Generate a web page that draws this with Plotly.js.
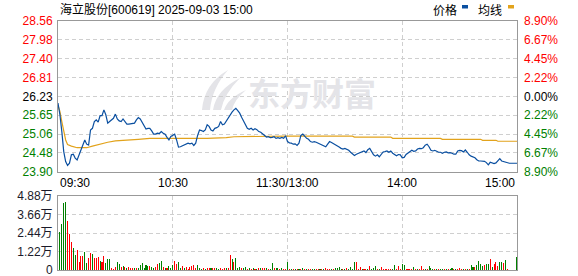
<!DOCTYPE html>
<html><head><meta charset="utf-8">
<script src="https://cdn.plot.ly/plotly-3.0.1.min.js"></script>
<style>html,body{margin:0;padding:0;background:#fff;}#c{width:578px;height:276px;}</style>
</head><body><div id="c"></div>
<script>
// ---- data ----
const title = "海立股份[600619] 2025-09-03 15:00";
const prevClose = 26.23;
const priceTicks = [23.90, 24.48, 25.06, 25.65, 26.23, 26.81, 27.40, 27.98, 28.56];
const pctLabels = ["8.90%", "6.67%", "4.45%", "2.22%", "0.00%", "2.22%", "4.45%", "6.67%", "8.90%"];
const volTicks = [0, 1.22, 2.44, 3.66, 4.88];
const volTickText = ["0", "1.22万", "2.44万", "3.66万", "4.88万"];
const timeTickMin = [0, 60, 120, 180, 240];
const timeTickText = ["09:30", "10:30", "11:30/13:00", "14:00", "15:00"];
const legendNames = ["价格", "均线"];
const watermark = "东方财富";

// price per minute (09:30 .. 11:30, 13:01 .. 15:00)
const price = [
26.02,25.66,25.14,24.52,24.21,24.09,24.16,24.42,24.44,24.32,
24.26,24.42,24.62,24.78,24.88,24.75,24.72,25.19,25.24,25.45,
25.50,25.43,25.63,25.63,25.81,25.66,25.40,25.45,25.50,25.55,
25.68,25.53,25.47,25.45,25.53,25.45,25.37,25.37,25.38,25.38,
25.40,25.50,25.57,25.53,25.43,25.30,25.22,25.24,25.24,25.16,
25.06,25.06,25.09,25.08,25.14,25.09,25.06,24.96,24.88,24.99,
25.04,25.06,
24.88,24.66,24.67,24.70,24.73,24.75,24.78,24.76,24.78,24.71,
24.78,25.02,25.19,25.17,25.14,25.19,25.35,25.30,25.19,25.16,
25.24,25.26,25.30,25.45,25.35,25.37,25.47,25.58,25.68,25.74,
25.81,25.86,25.79,25.71,25.58,25.45,25.35,25.24,25.21,25.24,
25.19,25.23,25.20,25.14,25.12,25.06,25.01,24.97,24.98,24.95,
24.96,24.98,24.93,24.95,24.93,24.96,24.93,25.01,24.83,
24.79,24.78,24.75,24.76,24.71,24.78,25.02,25.06,24.98,24.93,
24.90,24.83,24.81,24.83,24.81,24.78,24.77,24.73,24.70,24.67,
24.75,24.83,24.80,24.77,24.73,24.69,24.66,24.62,24.60,24.62,
24.59,24.56,24.50,24.44,24.40,24.44,24.47,24.48,24.53,24.54,
24.49,24.58,24.62,24.52,24.42,24.38,24.42,24.36,24.42,24.51,
24.52,24.54,24.50,24.54,24.47,24.43,24.39,24.43,24.42,24.33,
24.34,
24.43,24.48,24.52,24.56,24.53,24.54,24.60,24.62,24.61,24.64,
24.72,24.75,24.67,24.56,24.54,24.56,24.53,24.50,24.50,24.47,
24.50,24.51,24.48,24.49,24.47,24.44,24.44,24.54,24.56,24.55,
24.51,24.57,24.50,24.42,24.38,24.36,24.33,24.27,24.23,24.23,
24.23,24.22,24.18,24.11,24.19,24.16,24.15,24.17,24.24,24.30,
24.23,24.21,24.20,24.18,24.16,24.16,24.16,24.16,24.16
];

// average line, read at these minutes
const avgMin = [0,1,2,3,4,5,7,10,15,18,22,26,30,35,42,48,61,70,78,88,92,120,154,155,174,175,200,201,221,222,229,230,240];
const avgVal = [25.95,25.76,25.45,25.12,24.88,24.74,24.69,24.64,24.64,24.69,24.76,24.81,24.85,24.88,24.90,24.93,24.93,24.92,24.93,24.95,24.98,25.00,25.00,24.97,24.97,24.93,24.93,24.90,24.90,24.87,24.87,24.84,24.84];

// volume (万) for minutes 1..240, and direction (1 = up/red, 0 = down/green)
const vol = [
2.50,3.03,4.46,4.52,3.24,2.36,1.83,1.48,0.99,1.32,
0.51,0.95,0.90,1.21,0.47,0.80,1.10,1.08,0.80,0.80,
0.88,0.62,0.51,0.90,0.46,0.75,0.71,0.10,0.08,0.22,
0.55,0.40,0.20,0.26,0.22,0.15,0.18,0.12,0.10,0.10,
0.13,0.10,0.35,0.48,0.12,0.30,0.26,0.26,0.20,0.13,
0.18,0.40,0.46,0.60,0.20,0.13,0.12,0.26,0.15,0.35,
0.57,0.40,0.55,0.12,0.28,0.10,0.18,0.08,0.20,0.26,
0.35,0.13,0.35,0.10,0.08,0.10,0.08,0.12,0.10,0.10,
0.13,0.10,0.12,0.08,0.10,0.08,0.10,0.10,0.10,0.99,
0.73,0.51,0.79,0.13,0.20,0.10,0.10,0.20,0.08,0.10,
0.08,0.13,0.08,0.08,0.10,0.10,0.13,0.12,0.10,0.08,
0.08,0.44,0.10,0.10,0.12,0.08,0.10,0.08,0.08,0.55,
0.07,0.06,0.07,0.06,0.07,0.06,0.07,0.13,0.06,0.07,
0.07,0.06,0.07,0.06,0.07,0.06,0.07,0.06,0.07,0.15,
0.07,0.06,0.07,0.08,0.10,0.13,0.20,0.07,0.06,0.07,
0.10,0.06,0.22,0.07,0.51,0.51,0.07,0.20,0.06,0.07,
0.07,0.06,0.26,0.07,0.10,0.26,0.07,0.06,0.20,0.07,
0.06,0.07,0.06,0.07,0.06,0.33,0.07,0.26,0.06,0.40,
0.33,0.06,0.07,0.06,0.07,0.20,0.06,0.07,0.06,0.26,
0.06,0.07,0.06,0.26,0.10,0.07,0.06,0.07,0.06,0.07,
0.07,0.06,0.07,0.06,0.07,0.13,0.07,0.06,0.07,0.13,
0.07,0.06,0.07,0.06,0.07,0.33,0.22,0.22,0.33,0.60,
0.40,0.26,0.33,0.40,0.40,0.73,0.22,0.42,0.51,0.26,
0.51,0.51,0.46,0.66,0.04,0,0,0,0,0.86
];
const volUp = [
0,0,0,0,1,1,1,0,0,1, 1,1,1,0,0,1,1,0,1,1, 1,0,1,1,0,0,0,1,1,1, 0,0,1,0,1,0,1,1,1,0,
1,0,0,0,0,0,0,1,0,0, 1,1,0,0,1,0,1,0,0,0, 1,1,0,0,1,0,1,1,1,1, 1,1,0,0,0,1,0,1,1,0,
1,1,0,0,1,1,1,0,1,1, 0,1,0,0,0,1,0,0,1,0, 1,0,1,0,1,0,1,1,0,1, 0,0,1,0,0,1,0,1,1,0,
1,0,1,0,1,0,1,0,1,0, 1,1,0,0,1,1,0,1,0,1, 1,1,0,1,0,0,0,0,1,0, 1,0,0,0,0,1,1,1,0,1,
1,0,1,0,0,0,1,0,1,1, 1,1,1,1,0,0,1,1,1,0, 0,1,1,1,1,0,1,0,1,1, 1,0,1,0,0,0,1,0,1,0,
0,1,0,1,0,0,1,0,1,1, 1,0,1,0,1,0,0,1,0,0, 0,0,1,0,0,1,0,1,1,1, 0,0,1,0,1,1,1,1,1,0
];

// ---- styles ----
const RED = "#ff0000", GREEN = "#008000", BLACK = "#000000";
const BLUE = "#0a4fa0", GOLD = "#e2a31c";
const GRID = "#cfcfcf", FRAME = "#999999";
const FONT = "Liberation Sans, Arial, Noto Sans CJK SC, sans-serif";

const minutes = price.map((_, i) => i);
const volMin = vol.map((_, i) => i + 1);

function tickColor(i) { return i > 4 ? RED : (i === 4 ? BLACK : GREEN); }
const leftText = priceTicks.map((v, i) => `<span style="color:${tickColor(i)}">${v.toFixed(2)}</span>`);
const rightText = pctLabels.map((t, i) => `<span style="color:${tickColor(i)}">${t}</span>`);

// pixel -> paper helpers (plot area 58..517 x, 21..270 y)
const L = 58, R = 61, T = 21, B = 6, W = 578, H = 276;
const PW = W - L - R, PH = H - T - B;
const px = x => (x - L) / PW;
const py = y => (H - B - y) / PH;

const traces = [
  { type: "bar", x: volMin, y: vol, xaxis: "x2", yaxis: "y2", width: 0.55,
    marker: { color: volUp.map(u => u ? RED : GREEN), line: { width: 0 } }, hoverinfo: "skip" },
  { type: "scatter", mode: "lines", x: avgMin, y: avgVal, xaxis: "x", yaxis: "y",
    line: { color: GOLD, width: 1.2 }, hoverinfo: "skip" },
  { type: "scatter", mode: "lines", x: minutes, y: price, xaxis: "x", yaxis: "y",
    line: { color: BLUE, width: 1.2 }, hoverinfo: "skip" }
];

const xCommon = {
  range: [0, 240], tickvals: timeTickMin, showticklabels: false, ticks: "",
  showgrid: true, gridcolor: GRID, griddash: "4px,3px", gridwidth: 1,
  showline: true, linecolor: FRAME, linewidth: 1, mirror: true, zeroline: false, fixedrange: true
};

const layout = {
  width: W, height: H, margin: { l: L, r: R, t: T, b: B, pad: 0 },
  paper_bgcolor: "#fff", plot_bgcolor: "rgba(0,0,0,0)", showlegend: false,
  font: { family: FONT, size: 12, color: BLACK },
  xaxis: Object.assign({}, xCommon, { domain: [0, 1], anchor: "y" }),
  xaxis2: Object.assign({}, xCommon, { domain: [0, 1], anchor: "y2" }),
  yaxis: {
    domain: [0.395, 1], range: [priceTicks[0], priceTicks[8]], tickmode: "array",
    tickvals: priceTicks, ticktext: leftText, ticks: "", ticklabelstandoff: 2, ticklabeloverflow: "allow",
    showgrid: true, gridcolor: GRID, griddash: "4px,3px", gridwidth: 1,
    showline: true, linecolor: FRAME, mirror: true, zeroline: false, fixedrange: true,
    tickfont: { family: FONT, size: 12 }
  },
  yaxis3: {
    overlaying: "y", side: "right", anchor: "x", range: [priceTicks[0], priceTicks[8]],
    tickmode: "array", tickvals: priceTicks, ticktext: rightText, ticks: "", ticklabelstandoff: 6,
    ticklabeloverflow: "allow",
    showgrid: false, showline: false, zeroline: false, fixedrange: true,
    tickfont: { family: FONT, size: 12 }
  },
  yaxis2: {
    domain: [0, 0.296], range: [0, volTicks[4]], tickmode: "array",
    tickvals: volTicks, ticktext: volTickText, ticks: "", ticklabelstandoff: 2, ticklabeloverflow: "allow",
    showgrid: true, gridcolor: GRID, griddash: "4px,3px", gridwidth: 1,
    showline: true, linecolor: FRAME, mirror: true, zeroline: false, fixedrange: true,
    tickfont: { family: FONT, size: 12, color: "#1a1a2a" }
  },
  bargap: 0,
  annotations: [],
  shapes: []
};

// dummy trace so that yaxis3 is drawn
traces.push({ type: "scatter", mode: "lines", x: [0], y: [prevClose], xaxis: "x", yaxis: "y3",
  line: { width: 0 }, hoverinfo: "skip", showlegend: false });

// title
layout.annotations.push({ xref: "paper", yref: "paper", x: px(58), y: py(9), xanchor: "left", yanchor: "middle",
  text: title, showarrow: false, font: { family: FONT, size: 12, color: BLACK } });
// legend
layout.annotations.push({ xref: "paper", yref: "paper", x: px(431), y: py(9), xanchor: "left", yanchor: "middle",
  text: legendNames[0], showarrow: false, font: { family: "Noto Sans CJK SC", size: 12, color: BLACK } });
layout.annotations.push({ xref: "paper", yref: "paper", x: px(476), y: py(9), xanchor: "left", yanchor: "middle",
  text: legendNames[1], showarrow: false, font: { family: "Noto Sans CJK SC", size: 12, color: BLACK } });
layout.shapes.push({ type: "rect", xref: "paper", yref: "paper", x0: px(462), x1: px(468), y0: py(5), y1: py(8.5),
  fillcolor: BLUE, line: { width: 0 } });
layout.shapes.push({ type: "rect", xref: "paper", yref: "paper", x0: px(508), x1: px(514), y0: py(5), y1: py(8.5),
  fillcolor: GOLD, line: { width: 0 } });

// x tick labels
const anchors = ["left", "center", "center", "center", "right"];
timeTickMin.forEach((m, i) => {
  layout.annotations.push({ xref: "x", yref: "paper", x: m, y: py(183), xanchor: anchors[i], yanchor: "middle",
    text: timeTickText[i], showarrow: false, font: { family: FONT, size: 12, color: BLACK } });
});

// watermark
layout.annotations.push({ xref: "paper", yref: "paper", x: px(378), y: py(92), xanchor: "right", yanchor: "middle",
  text: "<b>" + watermark + "</b>", showarrow: false,
  font: { family: "Noto Sans CJK SC", size: 32, color: "#e4e4e8" } });
function P(x, y) { return px(x).toFixed(4) + "," + py(y).toFixed(4); }
const blades = [
  "M" + P(202,110) + " Q" + P(204,84) + " " + P(228,70) + " Q" + P(212,88) + " " + P(210,110) + " Z",
  "M" + P(213,110) + " Q" + P(216,90) + " " + P(240,78) + " Q" + P(224,94) + " " + P(221,110) + " Z",
  "M" + P(224,110) + " Q" + P(228,98) + " " + P(246,90) + " Q" + P(234,100) + " " + P(232,110) + " Z"
];
blades.forEach(d => layout.shapes.push({ type: "path", xref: "paper", yref: "paper", path: d,
  fillcolor: "#e4e4e8", line: { width: 0 }, layer: "below" }));

Plotly.newPlot("c", traces, layout, { staticPlot: true, displayModeBar: false });
</script>
</body></html>
